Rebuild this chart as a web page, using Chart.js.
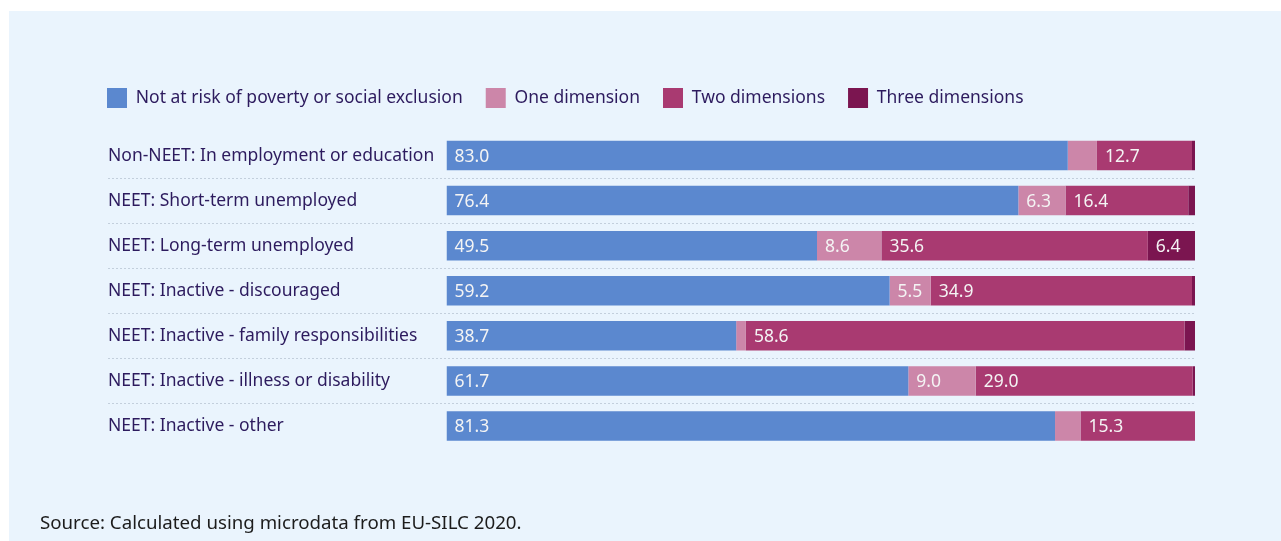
<!DOCTYPE html>
<html>
<head>
<meta charset="utf-8">
<script src="https://cdn.jsdelivr.net/npm/chart.js@4.4.1/dist/chart.umd.min.js"></script>
<style>
  html, body { margin: 0; padding: 0; background: #ffffff; }
  #wrap { position: relative; width: 1281px; height: 541px; overflow: hidden; }
  #panel { position: absolute; left: 9px; top: 11px; right: 0; bottom: 0; background: #eaf4fd; }
  #chart { position: absolute; left: 0; top: 0; }
  #source {
    position: absolute; left: 40px; top: 509px;
    font: 18.7px "Noto Sans", sans-serif; color: #1c1c1c;
  }
</style>
</head>
<body>
<div id="wrap">
  <div id="panel"></div>
  <canvas id="chart" width="1281" height="541"></canvas>
  <div id="source">Source: Calculated using microdata from EU-SILC 2020.</div>
</div>
<script>
// categories (rows, top to bottom)
const categories = [
  'Non-NEET: In employment or education',
  'NEET: Short-term unemployed',
  'NEET: Long-term unemployed',
  'NEET: Inactive - discouraged',
  'NEET: Inactive - family responsibilities',
  'NEET: Inactive - illness or disability',
  'NEET: Inactive - other'
];

// shares in %
const notAtRisk = [83.0, 76.4, 49.5, 59.2, 38.7, 61.7, 81.3];
const oneDim    = [3.9, 6.3, 8.6, 5.5, 1.3, 9.0, 3.4];
const twoDim    = [12.7, 16.4, 35.6, 34.9, 58.6, 29.0, 15.3];
const threeDim  = [0.4, 0.9, 6.4, 0.4, 1.4, 0.3, 0.0];

const seriesNames = [
  'Not at risk of poverty or social exclusion',
  'One dimension',
  'Two dimensions',
  'Three dimensions'
];

const TEXT = '#2d1b5e';
const FONT = '"Noto Sans", sans-serif';
const FSIZE = 17.5;

// dotted separators between rows, running under the labels too
const rowLines = {
  id: 'rowLines',
  beforeDatasetsDraw(chart) {
    const y = chart.scales.y;
    const ctx = chart.ctx;
    ctx.save();
    ctx.strokeStyle = '#c3cfdc';
    ctx.lineWidth = 1;
    ctx.setLineDash([2, 2]);
    for (let i = 0; i < categories.length - 1; i++) {
      const py = Math.round((y.getPixelForValue(i) + y.getPixelForValue(i + 1)) / 2) + 0.5;
      ctx.beginPath();
      ctx.moveTo(108, py);
      ctx.lineTo(chart.chartArea.right, py);
      ctx.stroke();
    }
    ctx.restore();
  }
};

// value labels inside segments (only the wide ones)
const valueLabels = {
  id: 'valueLabels',
  afterDatasetsDraw(chart) {
    const ctx = chart.ctx;
    ctx.save();
    ctx.font = FSIZE + 'px ' + FONT;
    ctx.fillStyle = '#f4f4f4';
    ctx.textAlign = 'left';
    ctx.textBaseline = 'middle';
    chart.data.datasets.forEach((ds, di) => {
      const meta = chart.getDatasetMeta(di);
      meta.data.forEach((bar, i) => {
        const v = ds.data[i];
        if (v < 5) return;
        const p = bar.getProps(['x', 'y', 'base'], true);
        ctx.fillText(v.toFixed(1), Math.min(p.x, p.base) + 8, p.y + 1);
      });
    });
    ctx.restore();
  }
};

// move legend so its first box lines up with the row labels and sits higher
const legendShift = {
  id: 'legendShift',
  afterLayout(chart) {
    chart.legend.left = 108 - 24;
    chart.legend.top -= 15;
  }
};

const colors = ['#5b88cf', '#cc86a9', '#a93a71', '#7b1550'];
const values = [notAtRisk, oneDim, twoDim, threeDim];

new Chart(document.getElementById('chart'), {
  type: 'bar',
  data: {
    labels: categories,
    datasets: values.map((d, i) => ({
      label: seriesNames[i],
      data: d,
      backgroundColor: colors[i],
      borderWidth: 0,
      barPercentage: 0.655,
      categoryPercentage: 1
    }))
  },
  options: {
    indexAxis: 'y',
    responsive: false,
    animation: false,
    layout: { padding: { left: 108, right: 86, top: 80, bottom: 92.5 } },
    plugins: {
      legend: {
        position: 'top',
        align: 'start',
        labels: {
          boxWidth: 20,
          boxHeight: 20,
          padding: 23,
          color: TEXT,
          font: { family: FONT, size: FSIZE }
        }
      },
      tooltip: { enabled: false }
    },
    scales: {
      x: {
        stacked: true,
        display: false,
        min: 0,
        max: 100
      },
      y: {
        stacked: true,
        grid: { display: false },
        border: { display: false },
        ticks: {
          crossAlign: 'far',
          color: TEXT,
          font: { family: FONT, size: FSIZE }
        },
        afterFit(scale) { scale.width = 338.5; }
      }
    }
  },
  plugins: [rowLines, valueLabels, legendShift]
});
</script>
</body>
</html>
